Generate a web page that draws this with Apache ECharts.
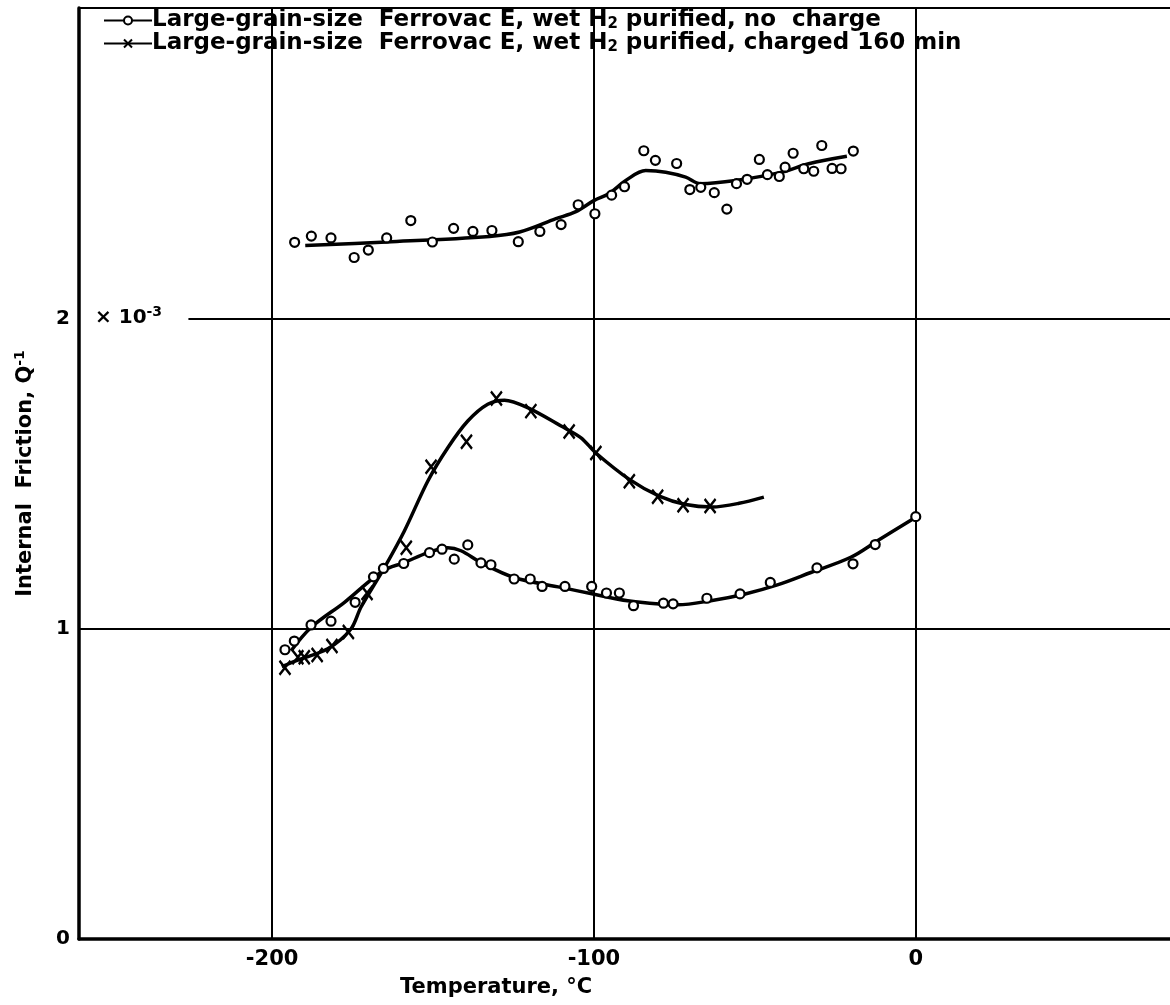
<!DOCTYPE html>
<html>
<head>
<meta charset="utf-8">
<script src="https://cdn.jsdelivr.net/npm/echarts@6/dist/echarts.min.js"></script>
<style>
html,body{margin:0;padding:0;background:#fff;}
#chart{width:1170px;height:1005px;}
</style>
</head>
<body>
<div id="chart"></div>
<script>
// ---- Data (Temperature °C, internal friction ×10^-3) ----
const NAME_A = 'Large-grain-size  Ferrovac E, wet H2 purified, no charge';
const NAME_B = 'Large-grain-size  Ferrovac E, wet H2 purified, charged 160 min';

// Open circles, upper run (no charge)
const upperX = [-193,-187.8,-181.7,-174.5,-170.1,-164.4,-156.9,-150.2,-143.6,-137.6,-131.7,-123.5,-116.8,-110.2,-104.9,-99.7,-94.5,-90.5,-84.5,-80.9,-74.3,-70.2,-66.8,-62.6,-58.7,-55.7,-52.4,-48.6,-46.1,-42.4,-40.6,-38.1,-34.8,-31.7,-29.2,-26.0,-23.2,-19.4];
const upperY = [2.245,2.265,2.259,2.196,2.220,2.259,2.315,2.246,2.290,2.280,2.283,2.247,2.280,2.302,2.366,2.337,2.397,2.424,2.540,2.509,2.499,2.415,2.422,2.405,2.352,2.434,2.448,2.512,2.463,2.457,2.487,2.532,2.482,2.474,2.557,2.483,2.482,2.539];
// Fitted curve through upper circles
const upperCurveX = [-189.7,-164.4,-132.4,-123.1,-111.8,-105.6,-99.9,-95.3,-90.1,-83.9,-77.7,-71.5,-66.9,-56.0,-41.6,-33.3,-21.4];
const upperCurveY = [2.235,2.246,2.264,2.278,2.321,2.344,2.380,2.402,2.444,2.476,2.471,2.455,2.434,2.444,2.471,2.498,2.522];

// Open circles, lower run (no charge)
const lowerX = [-196.0,-193.1,-187.9,-181.7,-174.2,-168.5,-165.4,-159.1,-151.1,-147.2,-143.4,-139.2,-135.1,-132.0,-124.8,-119.8,-116.1,-109.0,-100.7,-96.1,-92.1,-87.7,-78.4,-75.4,-64.9,-54.6,-45.2,-30.7,-19.5,-12.6,0];
const lowerY = [0.932,0.960,1.012,1.024,1.085,1.167,1.194,1.210,1.245,1.256,1.224,1.270,1.212,1.206,1.160,1.160,1.136,1.136,1.136,1.115,1.115,1.074,1.082,1.080,1.098,1.112,1.149,1.196,1.209,1.271,1.361];
const lowerCurveX = [-194.1,-187.9,-177.5,-165.6,-158.9,-151.6,-145.4,-141.3,-135.1,-124.8,-110.2,-99.9,-89.5,-74.0,-63.7,-53.3,-43.0,-32.6,-20.2,-11.9,0];
const lowerCurveY = [0.929,1.004,1.085,1.186,1.213,1.245,1.261,1.251,1.213,1.165,1.133,1.111,1.090,1.077,1.090,1.111,1.141,1.181,1.230,1.283,1.359];

// Crosses (charged 160 min)
const chargedX = [-196.0,-192.0,-190.0,-186.0,-181.4,-176.3,-170.5,-158.3,-150.6,-139.6,-130.3,-119.6,-107.7,-99.4,-89.0,-80.2,-72.3,-63.9];
const chargedY = [0.874,0.908,0.908,0.915,0.944,0.989,1.115,1.261,1.522,1.602,1.742,1.701,1.635,1.566,1.475,1.425,1.398,1.395];
const chargedCurveX = [-197.0,-192.0,-182.7,-175.5,-172.4,-165.1,-158.9,-151.6,-145.4,-139.2,-133.0,-127.8,-120.6,-110.2,-104.0,-99.4,-89.0,-79.7,-71.5,-63.2,-54.9,-47.2];
const chargedCurveY = [0.878,0.899,0.935,0.999,1.069,1.197,1.315,1.476,1.583,1.669,1.723,1.736,1.712,1.653,1.615,1.566,1.481,1.427,1.400,1.392,1.404,1.424];

// Axes / ticks
const xTickLabels = [-200, -100, 0];
const yTickLabels = [0, 1, 2];
const xGridLines = [-200, -100, 0];

const zip = (a, b) => a.map((v, i) => [v, b[i]]);
const FONT = 'DejaVu Sans';
const XSYM = 'path://M0,0L10,12M10,0L0,12';
const X_MIN = -260, X_MAX = 79;

const chart = echarts.init(document.getElementById('chart'), null, {renderer: 'canvas'});

const legendRich = {
  sub: {fontSize: 15, fontWeight: 'bold', fontFamily: FONT, color: '#000', verticalAlign: 'bottom', padding: [0, 0, 0, 0]}
};
const legendLabel = {};
legendLabel[NAME_A] = 'Large-grain-size  Ferrovac E, wet H{sub|2} purified, no  charge';
legendLabel[NAME_B] = 'Large-grain-size  Ferrovac E, wet H{sub|2} purified, charged 160 min';

const gridMarkLines = xGridLines.map(v => [{coord: [v, 0]}, {coord: [v, 3]}])
  .concat([
    [{coord: [X_MIN, 1]}, {coord: [X_MAX, 1]}],
    [{coord: [-226, 2]}, {coord: [X_MAX, 2]}]
  ]);

const option = {
  backgroundColor: '#fff',
  animation: false,
  grid: {left: 79, right: 0, top: 8, bottom: 66, show: false},
  legend: {
    data: [NAME_A, NAME_B],
    orient: 'vertical',
    left: 98, top: 4,
    itemWidth: 48, itemHeight: 10, itemGap: 0,
    formatter: n => legendLabel[n],
    textStyle: {fontFamily: FONT, fontWeight: 'bold', fontSize: 23, color: '#000', padding: [0, 0, 0, -5], rich: legendRich},
    selectedMode: false
  },
  xAxis: [{
    type: 'value', min: X_MIN, max: X_MAX, interval: 20,
    axisLine: {show: true, onZero: false, lineStyle: {color: '#000', width: 3.5}},
    axisTick: {show: false},
    splitLine: {show: false},
    axisLabel: {
      color: '#000', fontFamily: FONT, fontWeight: 'bold', fontSize: 21, margin: 10,
      showMaxLabel: false,
      formatter: v => xTickLabels.indexOf(v) >= 0 ? String(v) : ''
    }
  }, {
    type: 'value', position: 'top', min: X_MIN, max: X_MAX, interval: 20,
    axisLine: {show: true, onZero: false, lineStyle: {color: '#000', width: 2}},
    axisTick: {show: false}, axisLabel: {show: false}, splitLine: {show: false}
  }],
  yAxis: {
    type: 'value', min: 0, max: 3, interval: 1,
    name: 'Internal  Friction, Q{sup|-1}',
    nameLocation: 'middle', nameGap: 40, nameRotate: 90,
    nameTextStyle: {color: '#000', fontFamily: FONT, fontWeight: 'bold', fontSize: 21,
      rich: {sup: {fontSize: 14, fontWeight: 'bold', fontFamily: FONT, color: '#000', padding: [0, 0, 12, 0]}}},
    axisLine: {show: true, onZero: false, lineStyle: {color: '#000', width: 3.5}},
    axisTick: {show: false},
    splitLine: {show: false},
    axisLabel: {
      color: '#000', fontFamily: FONT, fontWeight: 'bold', fontSize: 20, margin: 9,
      formatter: v => yTickLabels.indexOf(v) >= 0 ? String(v) : ''
    }
  },
  graphic: [
    {type: 'text', left: 95, top: 305, z: 100,
      style: {text: '× 10{sup|-3}', fill: '#000', font: 'bold 20px "DejaVu Sans"',
        rich: {sup: {fontSize: 14, fontWeight: 'bold', fontFamily: FONT, padding: [0, 0, 12, 0]}}}},
    {type: 'text', left: 400, top: 977, z: 100,
      style: {text: 'Temperature, °C', fill: '#000', font: 'bold 21px "DejaVu Sans"'}}
  ],
  series: [
    {
      name: 'grid', type: 'line', data: [], silent: true,
      markLine: {silent: true, symbol: 'none', label: {show: false},
        lineStyle: {color: '#000', width: 2, type: 'solid'}, data: gridMarkLines}
    },
    {name: 'upperCurve', type: 'line', data: zip(upperCurveX, upperCurveY), smooth: 0.35,
      showSymbol: false, lineStyle: {color: '#000', width: 3.5}},
    {name: 'lowerCurve', type: 'line', data: zip(lowerCurveX, lowerCurveY), smooth: 0.35,
      showSymbol: false, lineStyle: {color: '#000', width: 3.5}},
    {name: 'chargedCurve', type: 'line', data: zip(chargedCurveX, chargedCurveY), smooth: 0.3,
      showSymbol: false, lineStyle: {color: '#000', width: 3.5}},
    {name: 'upperPts', type: 'scatter', data: zip(upperX, upperY), symbol: 'circle', symbolSize: 9,
      itemStyle: {color: '#fff', borderColor: '#000', borderWidth: 2.2, opacity: 1}, z: 5},
    {name: 'lowerPts', type: 'scatter', data: zip(lowerX, lowerY), symbol: 'circle', symbolSize: 9,
      itemStyle: {color: '#fff', borderColor: '#000', borderWidth: 2.2, opacity: 1}, z: 5},
    {name: 'chargedPts', type: 'scatter', data: zip(chargedX, chargedY), symbol: XSYM, symbolSize: [11, 14],
      itemStyle: {color: '#000', borderColor: '#000', borderWidth: 2.5, opacity: 1}, z: 5},
    // legend carriers
    {name: NAME_A, type: 'line', data: [], symbol: 'circle', symbolSize: 7,
      itemStyle: {color: '#fff', borderColor: '#000', borderWidth: 2},
      lineStyle: {color: '#000', width: 2.5}},
    {name: NAME_B, type: 'line', data: [], symbol: XSYM, symbolSize: [8, 10],
      itemStyle: {color: '#000', borderColor: '#000', borderWidth: 2},
      lineStyle: {color: '#000', width: 2.5}}
  ]
};
chart.setOption(option);
</script>
</body>
</html>
